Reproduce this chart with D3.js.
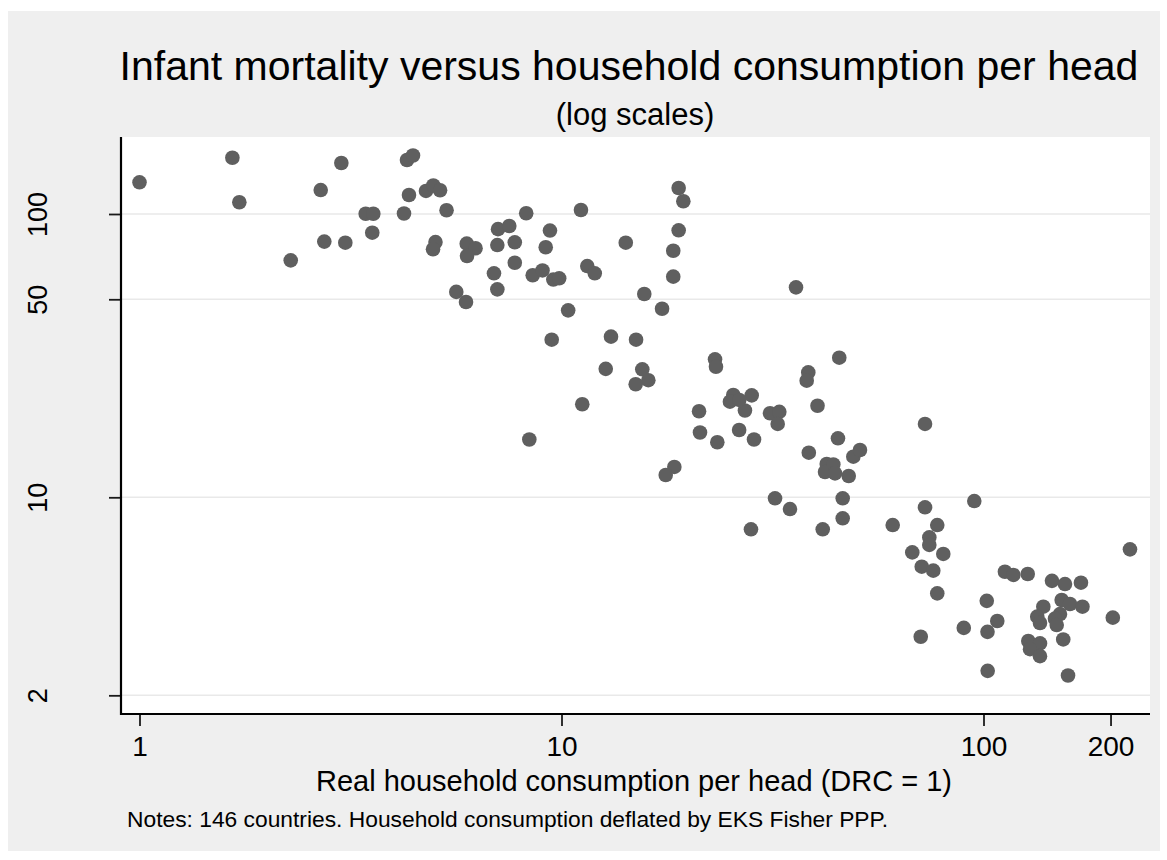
<!DOCTYPE html>
<html>
<head>
<meta charset="utf-8">
<script src="https://cdn.jsdelivr.net/npm/d3@7"></script>
<style>
  html, body { margin: 0; padding: 0; background: #ffffff; }
  svg { display: block; }
  text { font-family: "Liberation Sans", Arial, Helvetica, sans-serif; fill: #000; }
</style>
</head>
<body>
<svg id="chart" width="1167" height="860"></svg>
<script>
// Real household consumption per head (DRC = 1), one entry per country
const consumption = [
  1.0, 1.66, 1.724, 2.282, 2.688, 2.741, 3.008, 3.074, 3.436, 3.581,
  3.561, 4.234, 4.304, 4.447, 4.351, 4.774, 4.969, 5.155, 5.341, 5.028,
  4.961, 5.963, 6.256, 5.972, 5.632, 5.939, 7.073, 7.52, 7.046, 7.75,
  8.248, 7.75, 6.918, 7.046, 9.39, 9.175, 8.547, 9.016, 9.563, 9.875,
  10.37, 9.48, 11.12, 11.51, 11.99, 14.2, 15.71, 17.31, 13.1, 15.02,
  12.73, 15.54, 16.06, 14.99, 11.2, 18.95, 19.44, 18.95, 18.4, 18.4,
  8.389, 18.51, 17.66, 23.11, 23.23, 35.95, 45.52, 38.44, 38.11, 25.53,
  25.07, 28.23, 27.21, 26.38, 21.18, 31.2, 32.82, 32.53, 40.43, 21.29,
  23.4, 26.36, 28.59, 45.2, 38.55, 49.15, 50.97, 42.51, 44.07, 42.12,
  44.48, 47.93, 32.06, 34.79, 28.12, 46.38, 46.38, 41.59, 72.68, 72.68,
  95.1, 60.93, 77.7, 74.4, 74.4, 67.8, 80.3, 71.4, 76.03, 77.7,
  71.0, 222.4, 112.4, 117.7, 127.3, 145.3, 156.0, 170.2, 101.8, 153.2,
  160.3, 171.6, 138.6, 134.1, 151.8, 147.7, 149.1, 107.8, 102.2, 89.8,
  202.5, 154.5, 127.7, 136.1, 128.9, 136.1, 102.3, 158.6, 136.1
];

// Infant mortality (deaths per 1,000 live births), same order
const mortality = [
  129.4, 158, 110, 68.6, 121.5, 79.9, 151.4, 79.2, 100.2, 100.2,
  85.9, 100.4, 155.1, 160.9, 116.7, 120.6, 126.1, 121.3, 103.1, 79.6,
  75.1, 78.6, 75.7, 71.1, 53.1, 48.9, 88.4, 90.7, 77.7, 79.45,
  100.6, 67.3, 61.75, 54.2, 87.4, 76.3, 60.8, 63.2, 58.7, 59.3,
  45.7, 36.0, 103.3, 65.5, 61.75, 79.2, 52.2, 46.3, 36.9, 36.0,
  28.4, 28.3, 25.9, 25.06, 21.3, 123.5, 110.9, 87.6, 74.2, 60.1,
  16.0, 12.8, 11.99, 30.7, 28.9, 55.1, 31.1, 27.6, 25.8, 22.97,
  21.75, 22.9, 20.25, 22.06, 20.13, 19.8, 20.03, 18.15, 21.05, 16.93,
  15.64, 17.28, 16.0, 16.15, 14.37, 13.91, 14.69, 13.11, 13.06, 12.28,
  12.15, 11.89, 9.92, 9.09, 7.71, 9.92, 8.43, 7.71, 18.15, 9.22,
  9.70, 7.98, 7.98, 7.22, 6.79, 6.39, 6.31, 5.69, 5.51, 4.58,
  3.22, 6.55, 5.46, 5.32, 5.36, 5.07, 4.94, 4.996, 4.31, 4.34,
  4.20, 4.11, 4.11, 3.79, 3.87, 3.73, 3.54, 3.66, 3.35, 3.46,
  3.76, 3.15, 3.11, 3.05, 2.91, 2.75, 2.44, 2.35, 3.60
];

const xTicks = [1, 10, 100, 200];
const yTicks = [2, 10, 50, 100];

const titleText = "Infant mortality versus household consumption per head";
const subtitleText = "(log scales)";
const xTitleText = "Real household consumption per head (DRC = 1)";
const notesText = "Notes: 146 countries. Household consumption deflated by EKS Fisher PPP.";

const points = consumption.map((c, i) => ({ x: c, y: mortality[i] }));

const svg = d3.select("#chart");

// Plot region
const plot = { left: 121, right: 1150, top: 137, bottom: 714 };

// Log scales anchored on whole decades
const x = d3.scaleLog().domain([1, 100]).range([139.5, 983.5]);
const y = d3.scaleLog().domain([10, 100]).range([497.3, 214]);

// Outer panel
svg.append("rect")
  .attr("x", 8).attr("y", 11).attr("width", 1152).attr("height", 840)
  .attr("fill", "#efefef");

// Plot background
svg.append("rect")
  .attr("x", plot.left).attr("y", plot.top)
  .attr("width", plot.right - plot.left).attr("height", plot.bottom - plot.top)
  .attr("fill", "#ffffff");

// Horizontal gridlines
svg.append("g")
  .selectAll("line")
  .data(yTicks)
  .join("line")
  .attr("x1", plot.left).attr("x2", plot.right)
  .attr("y1", d => y(d)).attr("y2", d => y(d))
  .attr("stroke", "#e9e9e9")
  .attr("stroke-width", 1.6);

// Markers
svg.append("g")
  .selectAll("circle")
  .data(points)
  .join("circle")
  .attr("cx", d => x(d.x))
  .attr("cy", d => y(d.y))
  .attr("r", 7.3)
  .attr("fill", "#5f5f5f");

// Bottom axis
const xAxis = d3.axisBottom(x)
  .tickValues(xTicks)
  .tickFormat(d3.format("d"))
  .tickSize(12)
  .tickPadding(10);

const gx = svg.append("g")
  .attr("transform", `translate(0,${plot.bottom})`)
  .call(xAxis);
gx.select(".domain").remove();
gx.selectAll(".tick line").attr("stroke", "#1a1a1a").attr("stroke-width", 1.8);
gx.selectAll(".tick text")
  .attr("font-size", 28)
  .attr("fill", "#000")
  .attr("font-family", "'Liberation Sans', Arial, sans-serif");

// Left axis
const yAxis = d3.axisLeft(y)
  .tickValues(yTicks)
  .tickFormat(d3.format("d"))
  .tickSize(12);

const gy = svg.append("g")
  .attr("transform", `translate(${plot.left},0)`)
  .call(yAxis);
gy.select(".domain").remove();
gy.selectAll(".tick line").attr("stroke", "#1a1a1a").attr("stroke-width", 1.8);
gy.selectAll(".tick text")
  .attr("font-size", 27)
  .attr("fill", "#000")
  .attr("font-family", "'Liberation Sans', Arial, sans-serif")
  .attr("x", null).attr("dy", null)
  .attr("text-anchor", "middle")
  .attr("transform", `translate(${47 - plot.left},0) rotate(-90)`);

// Axis lines
svg.append("line")
  .attr("x1", plot.left).attr("x2", plot.left)
  .attr("y1", plot.top).attr("y2", plot.bottom + 1)
  .attr("stroke", "#000").attr("stroke-width", 2.2);
svg.append("line")
  .attr("x1", plot.left - 1).attr("x2", plot.right)
  .attr("y1", plot.bottom).attr("y2", plot.bottom)
  .attr("stroke", "#000").attr("stroke-width", 2.2);

// Titles
svg.append("text")
  .attr("x", 629).attr("y", 80)
  .attr("text-anchor", "middle")
  .attr("font-size", 41)
  .text(titleText);

svg.append("text")
  .attr("x", 635).attr("y", 125)
  .attr("text-anchor", "middle")
  .attr("font-size", 31)
  .text(subtitleText);

svg.append("text")
  .attr("x", 634).attr("y", 791)
  .attr("text-anchor", "middle")
  .attr("font-size", 29)
  .text(xTitleText);

svg.append("text")
  .attr("x", 127).attr("y", 827)
  .attr("font-size", 22.8)
  .text(notesText);
</script>
</body>
</html>
